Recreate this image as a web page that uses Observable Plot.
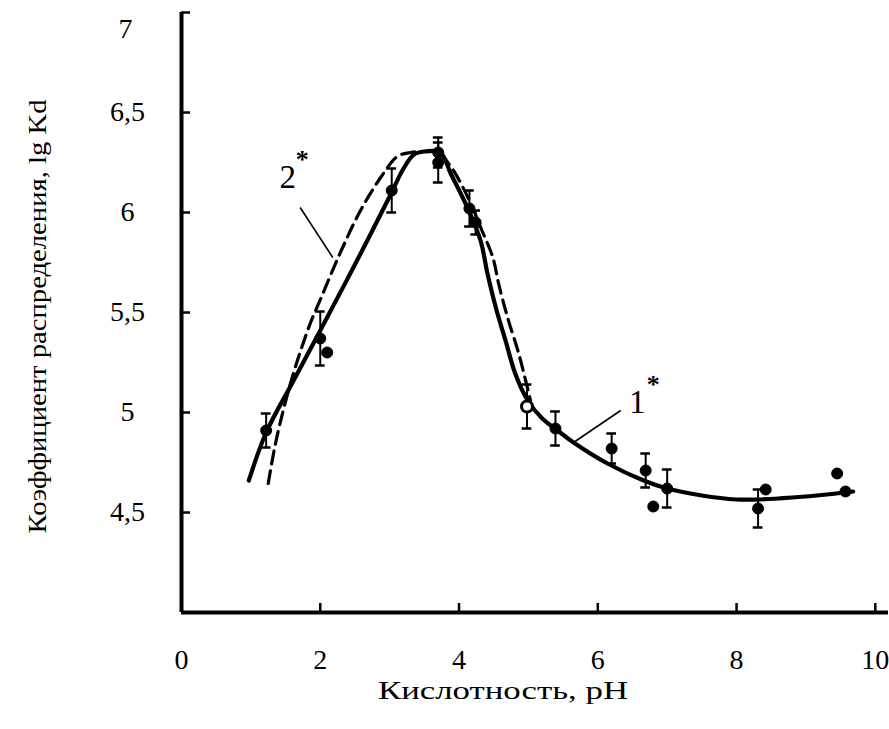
<!DOCTYPE html>
<html>
<head>
<meta charset="utf-8">
<script src="https://cdn.jsdelivr.net/npm/d3@7"></script>
<script src="https://cdn.jsdelivr.net/npm/@observablehq/plot@0.6"></script>
<style>
  html, body { margin: 0; padding: 0; background: #fff; }
  #chart svg { display: block; }
</style>
</head>
<body>
<div id="chart"></div>
<script>
// ---- data ----
const xTicks = [0, 2, 4, 6, 8, 10];
const yTicks = [4.5, 5, 5.5, 6, 6.5];
const yTickLabels = ["4,5", "5", "5,5", "6", "6,5"];
const yTopTick = [7];
const yTopLabel = ["7"];
const xLabel = "Кислотность, pH";
const yLabel = "Коэффициент распределения, lg Kd";

// curve 1* (solid)
const curve1X = [0.97, 1.22, 1.6, 2.0, 2.5, 3.0, 3.2, 3.35, 3.5, 3.73, 3.88, 4.12, 4.31, 4.41, 4.53, 4.67, 4.81, 4.99, 5.2, 5.42, 5.65, 6.14, 6.66, 7.0, 7.5, 8.0, 8.3, 8.8, 9.3, 9.68];
const curve1Y = [4.66, 4.90, 5.15, 5.41, 5.74, 6.08, 6.22, 6.29, 6.305, 6.30, 6.195, 6.025, 5.86, 5.695, 5.525, 5.36, 5.195, 5.06, 4.97, 4.91, 4.85, 4.745, 4.66, 4.62, 4.585, 4.565, 4.565, 4.575, 4.59, 4.605];

// curve 2* (dashed)
const curve2X = [1.25, 1.37, 1.6, 1.85, 2.02, 2.29, 2.58, 2.9, 3.11, 3.3, 3.5, 3.7, 3.9, 4.05, 4.2, 4.33, 4.44, 4.50, 4.57, 4.70, 4.86, 4.96, 5.03];
const curve2Y = [4.645, 4.87, 5.18, 5.44, 5.58, 5.80, 6.01, 6.19, 6.28, 6.30, 6.305, 6.30, 6.22, 6.13, 6.02, 5.91, 5.82, 5.76, 5.645, 5.475, 5.295, 5.16, 5.06];

// experimental points (err = half-length of error bar, 0 = none)
const ptX   = [1.22, 2.0, 2.1, 3.03, 3.70, 3.70, 4.15, 4.24, 4.98, 5.39, 6.2, 6.69, 6.8, 7.0, 8.31, 8.42, 9.45, 9.57];
const ptY   = [4.91, 5.37, 5.30, 6.11, 6.30, 6.25, 6.02, 5.95, 5.03, 4.92, 4.82, 4.71, 4.53, 4.62, 4.52, 4.615, 4.695, 4.605];
const ptErr = [0.085, 0.135, 0, 0.11, 0.075, 0.10, 0.09, 0.06, 0.11, 0.085, 0.075, 0.085, 0, 0.095, 0.095, 0, 0, 0];
const ptHollow = [false, false, false, false, false, false, false, false, true, false, false, false, false, false, false, false, false, false];

// curve labels and leader lines
const labelText = ["2", "1"];
const labelX = [1.53, 6.57];
const labelY = [6.175, 5.05];
const starX = [1.74, 6.80];
const starY = [6.265, 5.14];
const leaderX1 = [1.71, 6.33];
const leaderY1 = [6.025, 5.01];
const leaderX2 = [2.18, 5.65];
const leaderY2 = [5.775, 4.85];

// ---- tables ----
const solid = curve1X.map((x, i) => ({x, y: curve1Y[i]}));
const dashed = curve2X.map((x, i) => ({x, y: curve2Y[i]}));
const pts = ptX.map((x, i) => ({x, y: ptY[i], e: ptErr[i], hollow: ptHollow[i]}));
const errPts = pts.filter(d => d.e > 0);
const caps = errPts.flatMap(d => [{x: d.x, y: d.y - d.e}, {x: d.x, y: d.y + d.e}]);
const capHalf = 0.07;
const labels = labelText.map((t, i) => ({t, x: labelX[i], y: labelY[i], sx: starX[i], sy: starY[i]}));
const leaders = leaderX1.map((x1, i) => ({x1, y1: leaderY1[i], x2: leaderX2[i], y2: leaderY2[i]}));
const yLab = new Map(yTicks.map((t, i) => [t, yTickLabels[i]]));

const font = "'Liberation Serif', 'DejaVu Serif', serif";

const chart = Plot.plot({
  width: 889,
  height: 729,
  marginLeft: 181,
  marginRight: 1,
  marginTop: 12,
  marginBottom: 117,
  x: {domain: [0, 10.19]},
  y: {domain: [4, 7]},
  style: {fontFamily: font, fontSize: "28px", background: "white", color: "black"},
  marks: [
    // inward ticks
    Plot.axisX(xTicks, {tickSize: -9, tickFormat: () => "", label: null, strokeWidth: 2.5}),
    Plot.axisY([...yTicks, ...yTopTick], {tickSize: -9, tickFormat: () => "", label: null, strokeWidth: 2.5}),
    // tick labels
    Plot.axisX(xTicks, {tickSize: 0, tickPadding: 37, label: null, fontSize: 28, tickFormat: d => String(d)}),
    Plot.axisY(yTicks, {tickSize: 0, tickPadding: 54, textAnchor: "middle", label: null, fontSize: 28, tickFormat: d => yLab.get(d)}),
    Plot.axisY(yTopTick, {tickSize: 0, tickPadding: 56, textAnchor: "middle", dy: 17, label: null, fontSize: 28, tickFormat: (d, i) => yTopLabel[i]}),
    // axis titles
    Plot.text([xLabel], {frameAnchor: "bottom", textAnchor: "middle", dy: 78, dx: -32, fontSize: 25, lineAnchor: "middle"}),
    Plot.text([yLabel], {frameAnchor: "left", textAnchor: "middle", dx: -144, dy: 4, rotate: -90, fontSize: 26, lineAnchor: "middle"}),
    // axis lines
    Plot.ruleY([4], {strokeWidth: 4}),
    Plot.ruleX([0], {strokeWidth: 4}),
    // curves
    Plot.line(dashed, {x: "x", y: "y", curve: "catmull-rom", strokeWidth: 3.2, strokeDasharray: "13,7"}),
    Plot.line(solid, {x: "x", y: "y", curve: "catmull-rom", strokeWidth: 4.2}),
    // error bars
    Plot.ruleX(errPts, {x: "x", y1: d => d.y - d.e, y2: d => d.y + d.e, strokeWidth: 2}),
    Plot.ruleY(caps, {y: "y", x1: d => d.x - capHalf, x2: d => d.x + capHalf, strokeWidth: 2.5}),
    // points
    Plot.dot(pts, {x: "x", y: "y", r: 5.5, fill: d => d.hollow ? "white" : "black", stroke: "black", strokeWidth: d => d.hollow ? 3 : 1}),
    // leaders and labels
    Plot.link(leaders, {x1: "x1", y1: "y1", x2: "x2", y2: "y2", strokeWidth: 1.6}),
    Plot.text(labels, {x: "x", y: "y", text: "t", fontSize: 33}),
    Plot.text(labels, {x: "sx", y: "sy", text: () => "*", fontSize: 26, fontWeight: "bold"})
  ]
});

// stretch the axis titles to the widths seen in the reference
d3.select(chart).selectAll("text").each(function () {
  const t = this.textContent;
  if (t === xLabel) d3.select(this).attr("textLength", 250).attr("lengthAdjust", "spacingAndGlyphs");
  if (t === yLabel) d3.select(this).attr("textLength", 434).attr("lengthAdjust", "spacingAndGlyphs");
});
document.getElementById("chart").appendChild(chart);
</script>
</body>
</html>
